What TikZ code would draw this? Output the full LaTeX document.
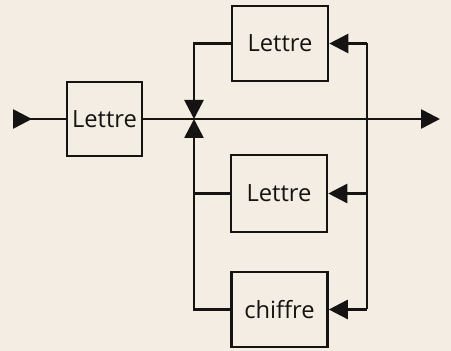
\documentclass[tikz,border=0pt]{standalone}
\usepackage{fontspec}
\setmainfont{Open Sans}
\usetikzlibrary{arrows.meta}
\definecolor{paper}{RGB}{243,237,227}
\definecolor{ink}{RGB}{22,20,18}

\begin{document}
\begin{tikzpicture}[x=0.02cm,y=-0.02cm,font=\fontsize{13.5}{16}\selectfont,
  line width=1.5pt,draw=ink,text=ink,
  box/.style={draw,minimum width=1.92cm,minimum height=1.5cm,inner sep=0pt},
  tip/.style={-{Triangle[length=0.38cm,width=0.38cm]}}]
  \fill[paper] (0,0) rectangle (451,351);
  % boxes
  \node[box,minimum width=1.5cm,minimum height=1.48cm] (l1) at (104.5,119) {Lettre};
  \node[box] (l2) at (280,43.5) {Lettre};
  \node[box,minimum height=1.54cm] (l3) at (279,193.5) {Lettre};
  \node[box] (ch) at (279.5,309.5) {chiffre};
  \coordinate (in) at (13,119);
  \coordinate (jn) at (194,119);
  \coordinate (rx) at (367,119);
  \coordinate (out) at (440,119);
  % main line
  \draw[tip] (in) -- ++(19,0);
  \draw (in) -- (l1);
  \draw[tip] (l1) -- (out);
  % loops back to the junction
  \draw[tip] (l2.west) -| (jn);
  \draw[tip] (ch.west) -| (jn);
  \draw (l3.west) -- (l3.west -| jn);
  % feedback on the right
  \draw (l2.east -| rx) -- (ch.east -| rx);
  \foreach \b in {l2,l3,ch}
    \draw[tip] (\b.east -| rx) -- (\b.east);
\end{tikzpicture}
\end{document}
